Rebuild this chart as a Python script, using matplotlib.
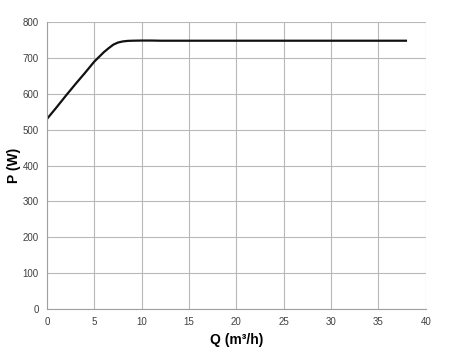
import numpy as np
import matplotlib
matplotlib.use('Agg')
import matplotlib.pyplot as plt

# Pump curve: flow Q (m3/h) vs power P (W).
q_vals = [0, 1, 2, 3, 4, 5, 6, 6.5, 7, 7.5, 8, 8.5, 9, 10, 11, 12, 15, 20, 25, 30, 35, 37.9]
p_vals = [530, 562, 595, 627, 658, 690, 716, 727, 737, 743, 746, 747.5, 748, 748.5, 748.5, 748, 748, 748, 748, 748, 748, 748]

x_ticks = np.arange(0, 41, 5)
y_ticks = np.arange(0, 801, 100)

plt.rcParams['font.family'] = ['Liberation Sans', 'DejaVu Sans']

fig = plt.figure(figsize=(4.7, 3.56), dpi=100)
ax = fig.add_axes([0.1, 0.132, 0.806, 0.806])

ax.plot(q_vals, p_vals, '-', color='#111111', linewidth=1.6)

ax.set_xlim(0, 40)
ax.set_ylim(0, 800)
ax.set_xticks(x_ticks)
ax.set_yticks(y_ticks)
ax.tick_params(length=0, labelsize=7, colors='#404040', pad=6)
ax.grid(True, color='#b8b8b8', linewidth=0.8)
ax.set_axisbelow(True)
for side in ['top', 'right']:
    ax.spines[side].set_visible(False)
for side in ['left', 'bottom']:
    ax.spines[side].set_color('#a0a0a0')
    ax.spines[side].set_linewidth(0.8)

ax.set_xlabel('Q (m³/h)', fontsize=10, fontweight='bold', labelpad=4)
ax.set_ylabel('P (W)', fontsize=10, fontweight='bold', labelpad=1)

fig.savefig('out.png', dpi=100)
